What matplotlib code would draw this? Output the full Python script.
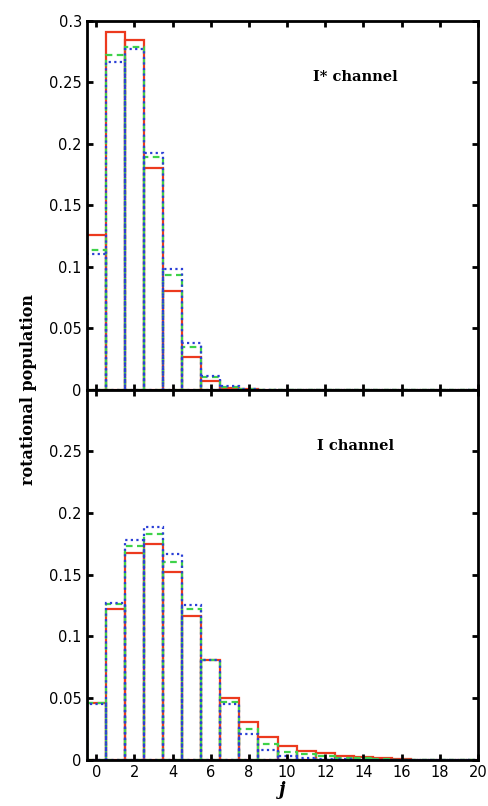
import numpy as np
import matplotlib.pyplot as plt

# rotational quantum number j
j_vals = np.arange(0, 21)

# I* channel populations (top panel)
top_red = [0.1255, 0.291, 0.2846, 0.180, 0.0802, 0.0267, 0.0072, 0.0012, 0.0003, 0, 0,
           0, 0, 0, 0, 0, 0, 0, 0, 0, 0]
top_green = [0.1136, 0.2724, 0.279, 0.1896, 0.0932, 0.0349, 0.0099, 0.0022, 0.0005, 0, 0,
             0, 0, 0, 0, 0, 0, 0, 0, 0, 0]
top_blue = [0.1104, 0.2664, 0.277, 0.1923, 0.0979, 0.0376, 0.0113, 0.0028, 0.0007, 0, 0,
            0, 0, 0, 0, 0, 0, 0, 0, 0, 0]

# I channel populations (bottom panel)
bot_red = [0.0465, 0.1225, 0.1675, 0.1748, 0.1526, 0.117, 0.0807, 0.0501, 0.0304, 0.0184,
           0.0117, 0.0076, 0.0054, 0.0035, 0.0027, 0.0016, 0.0008, 0.0003, 0, 0, 0]
bot_green = [0.046, 0.1266, 0.1734, 0.1827, 0.1604, 0.122, 0.0807, 0.0469, 0.0249, 0.0127,
             0.0068, 0.0049, 0.0033, 0.0019, 0.0012, 0.0007, 0.0003, 0, 0, 0, 0]
bot_blue = [0.0455, 0.1274, 0.178, 0.1889, 0.1667, 0.1255, 0.0807, 0.0455, 0.0211, 0.0081,
            0.0033, 0.0019, 0.001, 0.0006, 0.0003, 0.0001, 0, 0, 0, 0, 0]

COLORS = {"red": "#ec3a1e", "green": "#3ed24a", "blue": "#2a3fd6"}
STYLES = {"red": "-", "green": (0, (3, 2)), "blue": (0, (1, 1.5))}

fig = plt.figure(figsize=(4.89, 8.06), dpi=100)
ax_top = fig.add_axes([0.1773, 0.5167, 0.8002, 0.4573])
ax_bot = fig.add_axes([0.1773, 0.0571, 0.8002, 0.4596])


def draw_panel(ax, red, green, blue):
    for name, vals in (("red", red), ("green", green), ("blue", blue)):
        ax.bar(j_vals, vals, width=1.0, fill=False, edgecolor=COLORS[name],
               linestyle=STYLES[name], linewidth=1.6)
    ax.set_xlim(-0.5, 20)
    ax.set_ylim(0, 0.3)
    ax.set_xticks(np.arange(0, 21, 2))
    ax.tick_params(direction="in", length=4, width=2, top=True, right=True,
                   labelsize=10.5)
    for sp in ax.spines.values():
        sp.set_linewidth(2)


draw_panel(ax_top, top_red, top_green, top_blue)
draw_panel(ax_bot, bot_red, bot_green, bot_blue)

ax_top.set_yticks([0, 0.05, 0.1, 0.15, 0.2, 0.25, 0.3])
ax_top.set_yticklabels(["0", "0.05", "0.1", "0.15", "0.2", "0.25", "0.3"])
ax_top.tick_params(labelbottom=False)

ax_bot.set_yticks([0, 0.05, 0.1, 0.15, 0.2, 0.25])
ax_bot.set_yticklabels(["0", "0.05", "0.1", "0.15", "0.2", "0.25"])

ax_top.text(13.6, 0.254, "I* channel", ha="center", va="center",
            family="DejaVu Serif", fontweight="bold", fontsize=10.5)
ax_bot.text(13.6, 0.254, "I channel", ha="center", va="center",
            family="DejaVu Serif", fontweight="bold", fontsize=10.5)

fig.text(0.058, 0.517, "rotational population", rotation=90, ha="center", va="center",
         family="DejaVu Serif", fontweight="bold", fontsize=11.5)
ax_bot.set_xlabel("j", family="DejaVu Serif", fontweight="bold", style="italic",
                  fontsize=13, labelpad=1)

fig.savefig("out.png", dpi=100)
